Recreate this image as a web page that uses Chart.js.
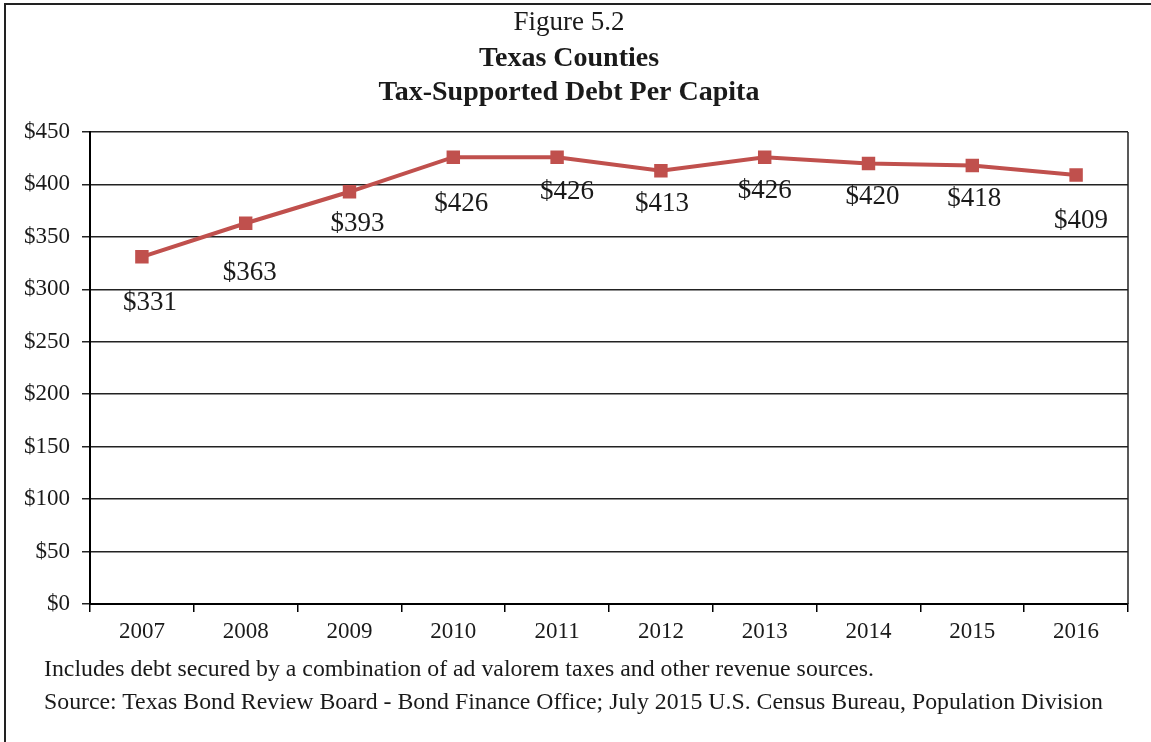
<!DOCTYPE html>
<html>
<head>
<meta charset="utf-8">
<title>Texas Counties - Tax-Supported Debt Per Capita</title>
<script src="https://cdn.jsdelivr.net/npm/chart.js@4.4.1/dist/chart.umd.min.js"></script>
<style>
  body { margin: 0; background: #fff; }
  .frame { position: relative; width: 1151px; height: 742px; overflow: hidden; }
  .frame::before {
    content: ''; position: absolute; left: 4px; top: 3px; width: 1200px; height: 800px;
    border-left: 2px solid #222; border-top: 2px solid #222;
  }
  .note {
    position: absolute; left: 44px; white-space: nowrap;
    font: 23.8px "Liberation Serif", serif; color: #1a1a1a;
  }
</style>
</head>
<body>
<div class="frame">
  <canvas id="debtChart" width="1151" height="742"></canvas>
  <div class="note" style="top:655px">Includes debt secured by a combination of ad valorem taxes and other revenue sources.</div>
  <div class="note" style="top:688px">Source: Texas Bond Review Board - Bond Finance Office; July 2015 U.S. Census Bureau, Population Division</div>
</div>
<script>
const years = ['2007', '2008', '2009', '2010', '2011', '2012', '2013', '2014', '2015', '2016'];
const debtPerCapita = [331, 363, 393, 426, 426, 413, 426, 420, 418, 409];
const yMax = 450;
const yStep = 50;

Chart.defaults.font.family = '"Liberation Serif", serif';
Chart.defaults.color = '#1a1a1a';

// value labels hang under each marker, nudged a little each
const labelShift = [[8, 46], [4, 50], [8, 32], [8, 47], [10, 35], [1, 33], [0, 34], [4, 33], [2, 33], [5, 46]];

const valueLabels = {
  id: 'valueLabels',
  afterDatasetsDraw(chart) {
    const ctx = chart.ctx;
    const pts = chart.getDatasetMeta(0).data;
    ctx.save();
    ctx.font = '27px "Liberation Serif", serif';
    ctx.fillStyle = '#1a1a1a';
    ctx.textAlign = 'center';
    ctx.textBaseline = 'middle';
    pts.forEach((pt, i) => {
      const [dx, dy] = labelShift[i];
      ctx.fillText('$' + debtPerCapita[i], pt.x + dx, pt.y + dy);
    });
    ctx.restore();
  }
};

// thin line closing the plot on the right
const plotFrame = {
  id: 'plotFrame',
  beforeDatasetsDraw(chart) {
    const { ctx, chartArea } = chart;
    ctx.save();
    ctx.strokeStyle = '#222';
    ctx.lineWidth = 1.5;
    ctx.beginPath();
    ctx.moveTo(chartArea.right, chartArea.top);
    ctx.lineTo(chartArea.right, chartArea.bottom);
    ctx.stroke();
    ctx.restore();
  }
};

const ctx = document.getElementById('debtChart').getContext('2d');

new Chart(ctx, {
  type: 'line',
  data: {
    labels: years,
    datasets: [{
      data: debtPerCapita,
      borderColor: '#C0504D',
      backgroundColor: '#C0504D',
      borderWidth: 4,
      pointStyle: 'rect',
      pointRadius: 9.5,
      pointBorderWidth: 0,
      tension: 0
    }]
  },
  options: {
    responsive: false,
    animation: false,
    layout: {
      padding: { left: 10, right: 23, top: 4, bottom: 88 }
    },
    scales: {
      x: {
        offset: true,
        grid: { offset: true, drawOnChartArea: false, color: '#000', lineWidth: 1.5, tickLength: 8 },
        border: { color: '#000', width: 2 },
        ticks: { font: { size: 23 }, padding: 6 },
        afterFit(scale) { scale.height = 50; }
      },
      y: {
        min: 0,
        max: yMax,
        ticks: {
          stepSize: yStep,
          font: { size: 23 },
          padding: 12,
          callback: v => '$' + v
        },
        grid: { color: '#222', lineWidth: 1.5, tickLength: 8 },
        border: { color: '#000', width: 2 },
        afterFit(scale) { scale.width = 80; }
      }
    },
    plugins: {
      legend: { display: false },
      tooltip: { enabled: false },
      title: {
        display: true,
        text: 'Figure 5.2',
        color: '#1a1a1a',
        font: { size: 27, weight: 'normal' },
        padding: { top: 3, bottom: 0 }
      },
      subtitle: {
        display: true,
        text: ['Texas Counties', 'Tax-Supported Debt Per Capita'],
        color: '#1a1a1a',
        font: { size: 28, weight: 'bold', lineHeight: 1.214 },
        padding: { top: 2, bottom: 22.6 }
      }
    }
  },
  plugins: [plotFrame, valueLabels]
});
</script>
</body>
</html>
